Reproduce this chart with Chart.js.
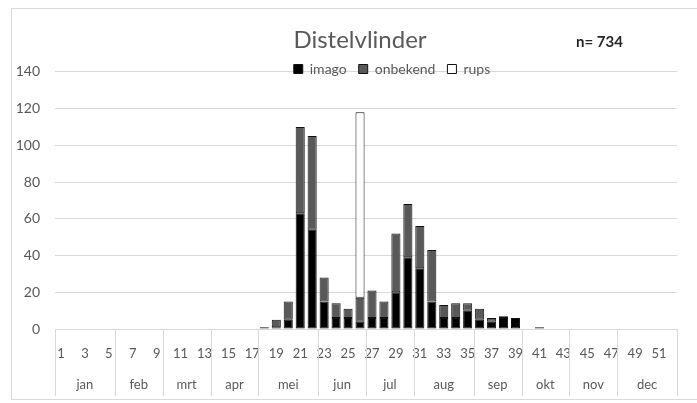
<!DOCTYPE html>
<html>
<head>
<meta charset="utf-8">
<script src="https://cdn.jsdelivr.net/npm/chart.js@4"></script>
<style>
  html, body { margin: 0; padding: 0; background: #fff; }
</style>
</head>
<body>
<canvas id="myChart" width="697" height="403"></canvas>
<script>
// weeks 1..52
const weeks = Array.from({ length: 52 }, (_, i) => i + 1);

const months = ['jan', 'feb', 'mrt', 'apr', 'mei', 'jun', 'jul', 'aug', 'sep', 'okt', 'nov', 'dec'];
const monthWeeks = [5, 4, 4, 4, 5, 4, 4, 5, 4, 4, 4, 5];

const imago = [0, 0, 0, 0, 0, 0, 0, 0, 0, 0, 0, 0, 0, 0, 0, 0, 0, 0, 1, 5, 63, 54, 15, 6, 6, 4, 6, 6, 20, 39, 33, 15, 6, 6, 10, 5, 4, 6, 6, 0, 0, 0, 0, 0, 0, 0, 0, 0, 0, 0, 0, 0];
const onbekend = [0, 0, 0, 0, 0, 0, 0, 0, 0, 0, 0, 0, 0, 0, 0, 0, 0, 1, 4, 10, 47, 51, 13, 8, 5, 13, 15, 9, 32, 29, 23, 28, 7, 8, 4, 6, 2, 1, 0, 0, 1, 0, 0, 0, 0, 0, 0, 0, 0, 0, 0, 0];
const rups = [0, 0, 0, 0, 0, 0, 0, 0, 0, 0, 0, 0, 0, 0, 0, 0, 0, 0, 0, 0, 0, 0, 0, 0, 0, 101, 0, 0, 0, 0, 0, 0, 0, 0, 0, 0, 0, 0, 0, 0, 0, 0, 0, 0, 0, 0, 0, 0, 0, 0, 0, 0];

const yTicks = [0, 20, 40, 60, 80, 100, 120, 140];

const total = [...imago, ...onbekend, ...rups].reduce((a, b) => a + b, 0);

const grey = '#595959';
const gridGrey = '#d9d9d9';
const fontName = 'Lato';
const legendFont = 14;

// move a layout box by dx/dy
function nudge(box, dx, dy) {
    box.left += dx; box.right += dx;
    box.top += dy; box.bottom += dy;
}

// extra bits: frame, month row, n= label, title/legend placed like the excel original
const extras = {
    id: 'extras',
    afterLayout(chart) {
        const t = chart.titleBlock;
        nudge(t, 360 - (t.left + t.right) / 2, 40 - (t.top + t.bottom) / 2);
        const lg = chart.legend;
        const lgPad = lg.options.labels.padding;
        nudge(lg, 392 - (lg.left + lg.right) / 2, 69 - (lg.top + lgPad + legendFont / 2));
    },
    beforeDraw(chart) {
        const ctx = chart.ctx;
        ctx.save();
        ctx.strokeStyle = gridGrey;
        ctx.lineWidth = 1;
        ctx.strokeRect(11.5, 8.5, 720, 391);
        ctx.restore();
    },
    afterDraw(chart) {
        const ctx = chart.ctx;
        const x = chart.scales.x;
        const area = chart.chartArea;
        const half = (x.getPixelForValue(1) - x.getPixelForValue(0)) / 2;
        ctx.save();
        ctx.strokeStyle = gridGrey;
        ctx.lineWidth = 1;
        ctx.fillStyle = grey;
        ctx.font = '13px ' + fontName;
        ctx.textAlign = 'center';
        ctx.textBaseline = 'middle';
        let start = 0;
        let x1 = 0;
        months.forEach((m, i) => {
            const x0 = x.getPixelForValue(start) - half;
            x1 = x.getPixelForValue(start + monthWeeks[i] - 1) + half;
            const px = Math.round(x0) + 0.5;
            ctx.beginPath();
            ctx.moveTo(px, area.bottom);
            ctx.lineTo(px, 396);
            ctx.stroke();
            ctx.fillText(m, (x0 + x1) / 2, 385);
            start += monthWeeks[i];
        });
        const pe = Math.round(x1) + 0.5;
        ctx.beginPath();
        ctx.moveTo(pe, area.bottom);
        ctx.lineTo(pe, 396);
        ctx.stroke();

        ctx.font = 'bold 15px ' + fontName;
        ctx.fillStyle = '#262626';
        ctx.textAlign = 'left';
        ctx.fillText('n= ' + total, 576, 42);
        ctx.restore();
    }
};

const data = {
    labels: weeks,
    datasets: [
        { label: 'imago', data: imago, backgroundColor: '#000000', borderColor: '#111111', borderWidth: 1, borderSkipped: false },
        { label: 'onbekend', data: onbekend, backgroundColor: '#595959', borderColor: '#111111', borderWidth: 1, borderSkipped: false },
        { label: 'rups', data: rups, backgroundColor: '#ffffff', borderColor: '#111111', borderWidth: 1, borderSkipped: false }
    ]
};

const config = {
    type: 'bar',
    data,
    options: {
        responsive: false,
        animation: false,
        devicePixelRatio: 1,
        layout: { padding: { top: 7, left: 8, right: 20, bottom: 0 } },
        datasets: { bar: { barPercentage: 0.76, categoryPercentage: 1 } },
        plugins: {
            title: {
                display: true,
                text: 'Distelvlinder',
                color: grey,
                font: { family: fontName, size: 24, weight: 'normal', lineHeight: 1.2 },
                padding: { top: 0, bottom: 0 }
            },
            legend: {
                display: true,
                labels: {
                    color: grey,
                    font: { family: fontName, size: legendFont },
                    boxWidth: 9,
                    boxHeight: 9,
                    padding: 12
                }
            },
            tooltip: { enabled: false }
        },
        scales: {
            x: {
                stacked: true,
                grid: { display: false },
                border: { display: false },
                ticks: {
                    autoSkip: false,
                    maxRotation: 0,
                    minRotation: 0,
                    color: grey,
                    font: { family: fontName, size: 13 },
                    padding: 9,
                    callback: (val, i) => (i % 2 === 0 ? String(weeks[i]) : '')
                },
                afterFit: (s) => { s.height = 74; }
            },
            y: {
                stacked: true,
                min: 0,
                max: 140,
                afterBuildTicks: (s) => { s.ticks = yTicks.map((v) => ({ value: v })); },
                grid: { color: gridGrey, drawTicks: false },
                border: { display: false },
                ticks: {
                    color: grey,
                    font: { family: fontName, size: 14 },
                    padding: 15
                },
                afterFit: (s) => { s.width = 47; }
            }
        }
    },
    plugins: [extras]
};

new Chart(document.getElementById('myChart'), config);
</script>
</body>
</html>
